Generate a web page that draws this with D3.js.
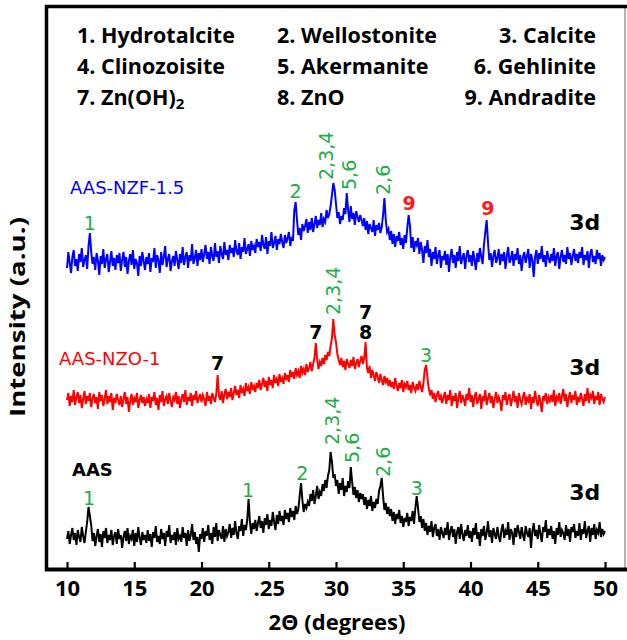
<!DOCTYPE html>
<html>
<head>
<meta charset="utf-8">
<script src="https://cdnjs.cloudflare.com/ajax/libs/d3/7.8.5/d3.min.js"></script>
<style>
body { margin: 0; background: #fff; }
</style>
</head>
<body>
<script>
// 2-theta grid, 10 to 50 deg in 0.1 deg steps
var angles = d3.range(0, 401).map(function(i) { return +(10 + i * 0.1).toFixed(1); });

// intensities (a.u.), one row = 2 degrees
var aas = [
  27, 35, 22, 31, 38, 26, 33, 21, 36, 29, 24, 39, 30, 23, 34, 44, 59, 50, 41, 25,
  33, 20, 30, 37, 24, 32, 19, 35, 28, 38, 23, 31, 26, 36, 21, 30, 34, 22, 37, 27,
  31, 18, 29, 35, 25, 38, 22, 30, 27, 36, 20, 33, 24, 39, 28, 21, 34, 26, 31, 23,
  36, 25, 32, 19, 34, 28, 40, 24, 30, 22, 37, 27, 33, 20, 35, 29, 41, 23, 31, 26,
  34, 21, 38, 27, 30, 24, 39, 28, 33, 20, 36, 25, 31, 42, 26, 34, 22, 29, 14, 32,
  27, 38, 24, 35, 30, 41, 26, 33, 22, 39, 29, 43, 25, 36, 31, 27, 40, 24, 37, 30,
  34, 42, 28, 38, 31, 45, 33, 27, 40, 35, 47, 30, 41, 36, 46, 67, 44, 32, 43, 37,
  46, 35, 43, 50, 38, 45, 33, 48, 41, 52, 37, 46, 40, 54, 44, 36, 51, 42, 55, 45,
  50, 41, 56, 47, 53, 44, 58, 49, 55, 46, 60, 52, 57, 70, 83, 66, 54, 62, 58, 64,
  60, 72, 65, 76, 62, 70, 80, 67, 74, 70, 82, 75, 86, 78, 90, 96, 114, 104, 88, 92,
  80, 86, 72, 83, 76, 88, 70, 80, 74, 85, 78, 99, 84, 71, 79, 68, 76, 64, 73, 67,
  72, 61, 69, 57, 66, 60, 70, 55, 64, 58, 67, 62, 75, 80, 88, 70, 56, 63, 52, 59,
  50, 57, 45, 54, 42, 52, 47, 56, 43, 50, 39, 48, 44, 53, 40, 49, 45, 55, 42, 58,
  70, 58, 44, 50, 38, 47, 35, 43, 31, 40, 34, 45, 29, 38, 42, 30, 37, 26, 39, 33,
  28, 38, 31, 44, 26, 35, 40, 29, 37, 22, 34, 39, 27, 42, 32, 25, 36, 30, 41, 28,
  35, 24, 38, 31, 43, 27, 34, 20, 37, 30, 40, 26, 33, 45, 29, 36, 23, 38, 32, 27,
  39, 30, 24, 36, 42, 28, 35, 31, 44, 26, 37, 33, 21, 38, 29, 41, 34, 27, 39, 31,
  25, 40, 33, 29, 38, 18, 35, 43, 30, 36, 27, 41, 32, 24, 39, 34, 46, 28, 37, 31,
  40, 27, 35, 22, 38, 31, 44, 29, 36, 33, 26, 41, 30, 37, 24, 39, 34, 42, 28, 35,
  30, 43, 26, 37, 32, 45, 28, 35, 40, 24, 38, 31, 42, 27, 36, 33, 44, 29, 37, 32,
  35
];
var nzo = [
  30, 37, 24, 34, 28, 40, 25, 33, 38, 27, 35, 22, 31, 39, 26, 34, 29, 37, 23, 32,
  36, 27, 33, 21, 38, 29, 35, 24, 31, 40, 26, 34, 28, 37, 20, 32, 27, 36, 30, 25,
  34, 23, 31, 38, 26, 33, 18, 29, 36, 25, 32, 28, 37, 22, 30, 35, 27, 33, 24, 31,
  27, 36, 22, 33, 29, 38, 25, 32, 20, 35, 28, 39, 24, 31, 34, 26, 37, 29, 23, 33,
  30, 38, 26, 34, 22, 31, 36, 28, 40, 25, 33, 29, 37, 24, 35, 30, 39, 27, 32, 36,
  28, 35, 31, 24, 38, 29, 34, 26, 37, 32, 28, 36, 55, 34, 30, 39, 27, 36, 41, 31,
  38, 33, 42, 30, 37, 44, 35, 40, 32, 45, 37, 41, 34, 47, 39, 43, 36, 48, 40, 44,
  38, 47, 42, 50, 40, 46, 52, 43, 49, 39, 53, 45, 50, 42, 55, 47, 51, 44, 56, 48,
  52, 46, 57, 50, 55, 48, 60, 53, 58, 51, 62, 55, 59, 52, 64, 57, 61, 55, 66, 58,
  62, 68, 59, 66, 72, 87, 70, 61, 68, 64, 72, 66, 75, 70, 78, 74, 84, 92, 111, 95,
  88, 76, 70, 65, 72, 63, 69, 60, 71, 66, 62, 70, 64, 73, 61, 67, 71, 63, 69, 74,
  66, 72, 88, 62, 57, 64, 52, 60, 55, 49, 58, 53, 47, 56, 50, 45, 54, 48, 52, 44,
  50, 43, 48, 41, 52, 45, 39, 47, 42, 50, 38, 46, 43, 49, 40, 45, 37, 48, 42, 39,
  46, 40, 49, 43, 38, 47, 60, 65, 52, 41, 36, 40, 31, 37, 28, 35, 39, 30, 34, 27,
  33, 38, 26, 35, 30, 40, 24, 34, 29, 37, 22, 32, 39, 27, 35, 31, 24, 36, 30, 42,
  28, 35, 23, 33, 38, 26, 31, 36, 21, 34, 29, 40, 25, 32, 37, 27, 34, 22, 31, 38,
  27, 33, 29, 19, 35, 30, 38, 25, 32, 36, 24, 31, 39, 28, 34, 22, 37, 30, 26, 33,
  38, 25, 32, 29, 36, 21, 33, 27, 39, 30, 24, 35, 28, 18, 34, 31, 37, 26, 33, 29,
  35, 28, 40, 24, 33, 30, 37, 26, 34, 41, 29, 36, 23, 32, 38, 27, 35, 30, 39, 25,
  33, 28, 37, 31, 24, 36, 29, 42, 27, 35, 32, 39, 26, 34, 30, 38, 25, 36, 31, 28,
  33
];
var nzf = [
  22, 38, 27, 17, 33, 40, 24, 31, 19, 36, 28, 42, 23, 30, 35, 21, 44, 57, 38, 26,
  33, 20, 37, 29, 15, 34, 26, 41, 22, 31, 36, 18, 28, 39, 24, 32, 20, 35, 27, 37,
  19, 30, 38, 23, 33, 16, 29, 36, 25, 40, 21, 31, 27, 14, 34, 24, 38, 29, 20, 33,
  26, 37, 18, 32, 28, 42, 22, 35, 30, 17, 38, 25, 33, 44, 23, 31, 36, 19, 29, 34,
  24, 39, 30, 21, 36, 27, 43, 25, 33, 38, 22, 35, 29, 46, 26, 32, 40, 24, 37, 30,
  41, 28, 36, 45, 31, 38, 26, 43, 34, 29, 47, 33, 39, 27, 44, 36, 31, 48, 35, 40,
  30, 45, 37, 42, 33, 50, 39, 35, 47, 31, 43, 38, 52, 36, 41, 46, 34, 49, 40, 44,
  37, 51, 43, 48, 39, 55, 45, 41, 53, 36, 49, 44, 58, 42, 47, 54, 40, 51, 46, 56,
  48, 42, 55, 47, 52, 58, 44, 53, 49, 80, 88, 70, 55, 62, 50, 66, 59, 64, 71, 57,
  68, 60, 72, 58, 66, 74, 62, 70, 65, 77, 63, 71, 68, 80, 72, 76, 84, 95, 107, 100,
  86, 72, 78, 66, 74, 70, 82, 76, 97, 80, 68, 84, 71, 77, 65, 79, 73, 68, 75, 70,
  64, 72, 60, 69, 56, 66, 62, 58, 70, 54, 65, 60, 67, 57, 63, 75, 92, 70, 58, 61,
  50, 59, 46, 56, 43, 54, 49, 58, 45, 52, 41, 55, 47, 62, 75, 64, 42, 53, 38, 49,
  45, 52, 36, 48, 40, 27, 44, 37, 50, 33, 41, 24, 38, 31, 43, 26, 35, 40, 22, 34,
  30, 39, 25, 36, 18, 33, 41, 27, 35, 22, 38, 29, 44, 26, 32, 37, 21, 34, 40, 28,
  35, 24, 39, 30, 20, 37, 28, 42, 33, 26, 45, 58, 70, 48, 30, 37, 23, 34, 40, 27,
  32, 41, 25, 36, 29, 38, 21, 34, 43, 27, 31, 39, 24, 36, 30, 42, 26, 35, 19, 33,
  38, 27, 34, 41, 22, 36, 30, 13, 33, 40, 26, 37, 31, 44, 28, 35, 23, 39, 32, 27,
  36, 29, 42, 24, 34, 38, 21, 33, 40, 28, 35, 26, 43, 31, 37, 25, 34, 41, 29, 36,
  27, 38, 32, 43, 25, 35, 30, 39, 22, 36, 41, 28, 34, 26, 40, 31, 37, 24, 35, 30,
  33
];

var seriesNames = ["AAS", "AAS-NZO-1", "AAS-NZF-1.5"];
var seriesValues = [aas, nzo, nzf];
var seriesOffsets = [0, 136, 276];
var seriesColors = ["#000000", "#ff0000", "#0000ff"];

var xTicks = [10, 15, 20, 25, 30, 35, 40, 45, 50];
var xTickLabels = ["10", "15", "20", ".25", "30", "35", "40", "45", "50"];

var phases = ["1. Hydrotalcite", "2. Wellostonite", "3. Calcite",
              "4. Clinozoisite", "5. Akermanite", "6. Gehlinite",
              "7. Zn(OH)", "8. ZnO", "9. Andradite"];

// peak marks: series index, 2theta, level (a.u. above that trace's offset), text
var green = "#22ad48";
var peakMarks = [
  {s: 2, a: 11.7, v: 60, t: "1", c: green},
  {s: 2, a: 27.0, v: 92, t: "2", c: green},
  {s: 2, a: 29.26, v: 110, t: "2,3,4", c: green, rot: true},
  {s: 2, a: 30.97, v: 100, t: "5,6", c: green, rot: true},
  {s: 2, a: 33.5, v: 95, t: "2,6", c: green, rot: true},
  {s: 2, a: 35.43, v: 80, t: "9", c: "#ff1a1a", b: true},
  {s: 2, a: 41.3, v: 75, t: "9", c: "#ff1a1a", b: true},
  {s: 1, a: 21.2, v: 60, t: "7", c: "#000", b: true},
  {s: 1, a: 28.5, v: 91, t: "7", c: "#000", b: true},
  {s: 1, a: 29.8, v: 115, t: "2,3,4", c: green, rot: true},
  {s: 1, a: 32.2, v: 111, t: "7", c: "#000", b: true},
  {s: 1, a: 32.2, v: 91, t: "8", c: "#000", b: true},
  {s: 1, a: 36.7, v: 68, t: "3", c: green},
  {s: 0, a: 11.64, v: 61, t: "1", c: green},
  {s: 0, a: 23.46, v: 69, t: "1", c: green},
  {s: 0, a: 27.5, v: 86, t: "2", c: green},
  {s: 0, a: 29.7, v: 121, t: "2,3,4", c: green, rot: true},
  {s: 0, a: 31.2, v: 103, t: "5,6", c: green, rot: true},
  {s: 0, a: 33.5, v: 89, t: "2,6", c: green, rot: true},
  {s: 0, a: 36.0, v: 71, t: "3", c: green}
];
var dayLevels = [66, 55, 60];

var w = 627, h = 640;

var xScale = d3.scaleLinear().domain([10, 50]).range([67, 605]);
var yScale = d3.scaleLinear().domain([0, 560]).range([566, 6]);

var svg = d3.select("body").append("svg")
  .attr("width", w)
  .attr("height", h);

//traces
var line = d3.line()
  .x(function(d) { return xScale(d[0]); })
  .y(function(d) { return yScale(d[1]); });

seriesValues.forEach(function(vals, k) {
  var pts = angles.map(function(a, i) { return [a, vals[i] + seriesOffsets[k]]; });
  svg.append("path")
    .attr("d", line(pts))
    .attr("fill", "none")
    .attr("stroke", seriesColors[k])
    .attr("stroke-width", 2);
});

// frame
svg.append("line").attr("x1", 625).attr("x2", 625).attr("y1", 6).attr("y2", 569)
  .attr("stroke", "#999").attr("stroke-width", 1.5);
svg.append("line").attr("x1", 45).attr("x2", 627).attr("y1", 6.5).attr("y2", 6.5)
  .attr("stroke", "#000").attr("stroke-width", 3.5);
svg.append("line").attr("x1", 46.5).attr("x2", 46.5).attr("y1", 5).attr("y2", 571)
  .attr("stroke", "#000").attr("stroke-width", 3.5);
svg.append("line").attr("x1", 45).attr("x2", 627).attr("y1", 569.5).attr("y2", 569.5)
  .attr("stroke", "#000").attr("stroke-width", 4);

// x axis
var xAxis = d3.axisBottom(xScale)
  .tickValues(xTicks)
  .tickSize(-6)
  .tickSizeOuter(0)
  .tickFormat(function(d, i) { return xTickLabels[i]; });
var gx = svg.append("g").attr("transform", "translate(0,568)").call(xAxis);
gx.select(".domain").remove();
gx.selectAll(".tick line").attr("stroke", "#000").attr("stroke-width", 2.2);
gx.selectAll(".tick text")
  .attr("y", 12)
  .attr("fill", "#000")
  .attr("font-family", "'Open Sans', sans-serif")
  .attr("font-weight", "bold")
  .attr("font-size", "22px");

svg.append("text")
  .attr("x", 337).attr("y", 630)
  .attr("text-anchor", "middle")
  .attr("font-family", "'Open Sans', sans-serif")
  .attr("font-weight", "bold")
  .attr("font-size", "22px")
  .text("2\u0398 (degrees)");

svg.append("text")
  .attr("transform", "translate(25,317) rotate(-90)")
  .attr("text-anchor", "middle")
  .attr("font-family", "'Open Sans', sans-serif")
  .attr("font-weight", "bold")
  .attr("font-size", "22px")
  .attr("textLength", 200)
  .attr("lengthAdjust", "spacingAndGlyphs")
  .text("Intensity (a.u.)");

// legend of phases
var legX = [77, 277, 596];
var legY = [43, 74, 105];
phases.forEach(function(p, i) {
  var col = i % 3, row = Math.floor(i / 3);
  var t = svg.append("text")
    .attr("x", legX[col]).attr("y", legY[row])
    .attr("text-anchor", col == 2 ? "end" : "start")
    .attr("font-family", "'Open Sans', sans-serif")
    .attr("font-weight", "bold")
    .attr("font-size", "21.5px")
    .text(p);
  if (i == 6) {
    t.append("tspan").attr("dy", 4).attr("font-size", "15px").text("2");
  }
});

// series names
var nameX = [72, 59, 70];
var nameLevels = [90, 65, 96];
seriesNames.forEach(function(n, k) {
  svg.append("text")
    .attr("x", nameX[k])
    .attr("y", yScale(nameLevels[k] + seriesOffsets[k]))
    .attr("fill", k == 0 ? "#000" : seriesColors[k])
    .attr("font-family", "'DejaVu Sans', sans-serif")
    .attr("font-weight", k == 0 ? "bold" : "normal")
    .attr("font-size", "18px")
    .text(n);
});

// peak labels
peakMarks.forEach(function(m) {
  var px = xScale(m.a), py = yScale(m.v + seriesOffsets[m.s]);
  var t = svg.append("text")
    .attr("fill", m.c)
    .attr("font-family", "'DejaVu Sans', sans-serif")
    .attr("font-weight", m.b ? "bold" : "normal")
    .attr("font-size", "19px")
    .text(m.t);
  if (m.rot) {
    t.attr("transform", "translate(" + px + "," + py + ") rotate(-90)")
      .attr("dy", "0.35em");
  } else {
    t.attr("x", px).attr("y", py).attr("text-anchor", "middle");
  }
});

// 3d tags
dayLevels.forEach(function(v, k) {
  svg.append("text")
    .attr("x", xScale(48.5)).attr("y", yScale(v + seriesOffsets[k]))
    .attr("text-anchor", "middle")
    .attr("font-family", "'DejaVu Sans', sans-serif")
    .attr("font-weight", "bold")
    .attr("font-size", "22px")
    .text("3d");
});
</script>
</body>
</html>
